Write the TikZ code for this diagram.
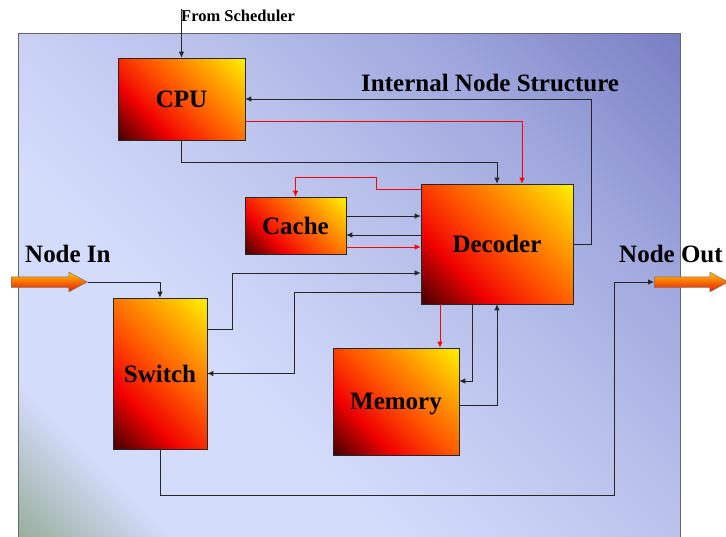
\documentclass[tikz,border=0pt]{standalone}
\usepackage{fontspec}
\setmainfont{Liberation Serif}
\usetikzlibrary{arrows.meta,shapes.arrows,positioning}

% colours of the boxes and of the panel
\definecolor{fireA}{RGB}{78,0,0}
\definecolor{fireB}{RGB}{240,0,0}
\definecolor{fireC}{RGB}{255,80,0}
\definecolor{fireD}{RGB}{255,160,0}
\definecolor{fireE}{RGB}{255,236,0}
\definecolor{skyG}{RGB}{146,170,146}
\definecolor{skyL}{RGB}{212,220,252}
\definecolor{skyM}{RGB}{186,194,236}
\definecolor{skyN}{RGB}{160,168,222}
\definecolor{skyD}{RGB}{122,128,196}
\definecolor{portT}{RGB}{255,196,0}
\definecolor{portM}{RGB}{255,120,0}
\definecolor{portB}{RGB}{240,20,0}

\pgfdeclarehorizontalshading{fire}{100bp}{color(0bp)=(fireA); color(16bp)=(fireA);
  color(33bp)=(fireB); color(50bp)=(fireC); color(68bp)=(fireD); color(84bp)=(fireE); color(100bp)=(fireE)}
\pgfdeclarehorizontalshading{sky}{100bp}{color(0bp)=(skyG); color(15bp)=(skyG);
  color(25bp)=(skyL); color(38bp)=(skyL); color(56bp)=(skyM); color(70bp)=(skyN); color(85bp)=(skyD); color(100bp)=(skyD)}

\tikzset{
  unitbox/.style = {draw=black!85, line width=0.6pt, shade, shading=fire, shading angle=45,
                    inner sep=0pt, text depth=0pt, font=\fontsize{25}{30}\selectfont\bfseries},
  heading/.style = {inner sep=0pt, font=\fontsize{25}{30}\selectfont\bfseries},
  wire/.style    = {->, draw=black!85, line width=0.8pt},
  hotwire/.style = {wire, draw=red},
  port/.style    = {single arrow, draw=black!55, line width=0.5pt, top color=portT,
                    middle color=portM, bottom color=portB, inner sep=0pt, inner ysep=5pt,
                    minimum width=19pt, single arrow head extend=4.5pt,
                    single arrow tip angle=56, anchor=tail}
}

\begin{document}
\begin{tikzpicture}[x=1pt, y=-1pt, >={Latex[length=6pt,width=5.5pt]}]
  \useasboundingbox (0,0) rectangle (726,536);

  % background panel
  \shade[shading=sky, shading angle=45, draw=black!60, line width=0.6pt] (18,33) rectangle (680,560);

  % headings
  \node[heading, anchor=base west] (title) at (361,91) {Internal Node Structure};
  \node[heading, anchor=base west] (inlbl) at (25,262) {Node In};
  \node[heading, anchor=base west] (outlbl) at (619,262) {Node Out};
  \node[heading, anchor=base west, font=\fontsize{16.5}{20}\selectfont\bfseries] (sched) at (181,21) {From Scheduler};

  % the units of the node
  \begin{scope}[every node/.style={unitbox}]
  \node[minimum width=127, minimum height=82] (cpu) at (181.5,99) {CPU};
  \node[minimum width=101, minimum height=57] (cache) at (295.5,225.5) {Cache};
  \node[minimum width=152, minimum height=120] (dec) at (497,244) {Decoder};
  \node[minimum width=94, minimum height=151] (switch) at (160,373.5) {Switch};
  \node[minimum width=126, minimum height=107] (mem) at (396,401.5) {Memory};
  \end{scope}

  % in and out ports
  \node[port, minimum height=76] (nin) at (11,282) {};
  \node[port, minimum height=74] (nout) at (654,282) {};

  % CPU and decoder
  \draw[wire] (cpu.north |- sched.north) -- (cpu.north);
  \draw[wire] (dec.east) -- ++(18,0) |- (cpu.east);
  \draw[hotwire] ([yshift=-22pt]cpu.east) -| ([xshift=25pt]dec.north);
  \draw[wire] (cpu.south) -- ++(0,22) -| (dec.north);

  % cache and decoder
  \draw[hotwire] ([yshift=-6pt]dec.north west) -- ++(-44,0) -- ++(0,-12) -| (cache.north);
  \foreach \dy/\kind in {9.5pt/wire, -21.5pt/hotwire}
    \draw[\kind] ([yshift=\dy]cache.east) -- ([yshift=\dy]cache.east -| dec.west);
  \draw[wire] ([yshift=-9.5pt]cache.east -| dec.west) -- ([yshift=-9.5pt]cache.east);

  % switch and decoder
  \draw[wire] ([yshift=44.5pt]switch.east) -- ++(25,0) |- ([yshift=-29pt]dec.west);
  \draw[wire] ([yshift=-48pt]dec.west) -- ++(-126,0) |- (switch.east);

  % memory and decoder
  \draw[hotwire] ([xshift=-57pt]dec.south) -- ([xshift=-57pt]dec.south |- mem.north);
  \draw[wire] ([xshift=-25pt]dec.south) |- ([yshift=20.5pt]mem.east);
  \draw[wire] ([yshift=-3.5pt]mem.east) -| (dec.south);

  % node in and node out
  \draw[wire] (nin.tip) -| (switch.north);
  \draw[wire] (switch.south) -- ++(0,46) -| ([xshift=-40pt]nout.tail) -- (nout.tail);
\end{tikzpicture}
\end{document}
